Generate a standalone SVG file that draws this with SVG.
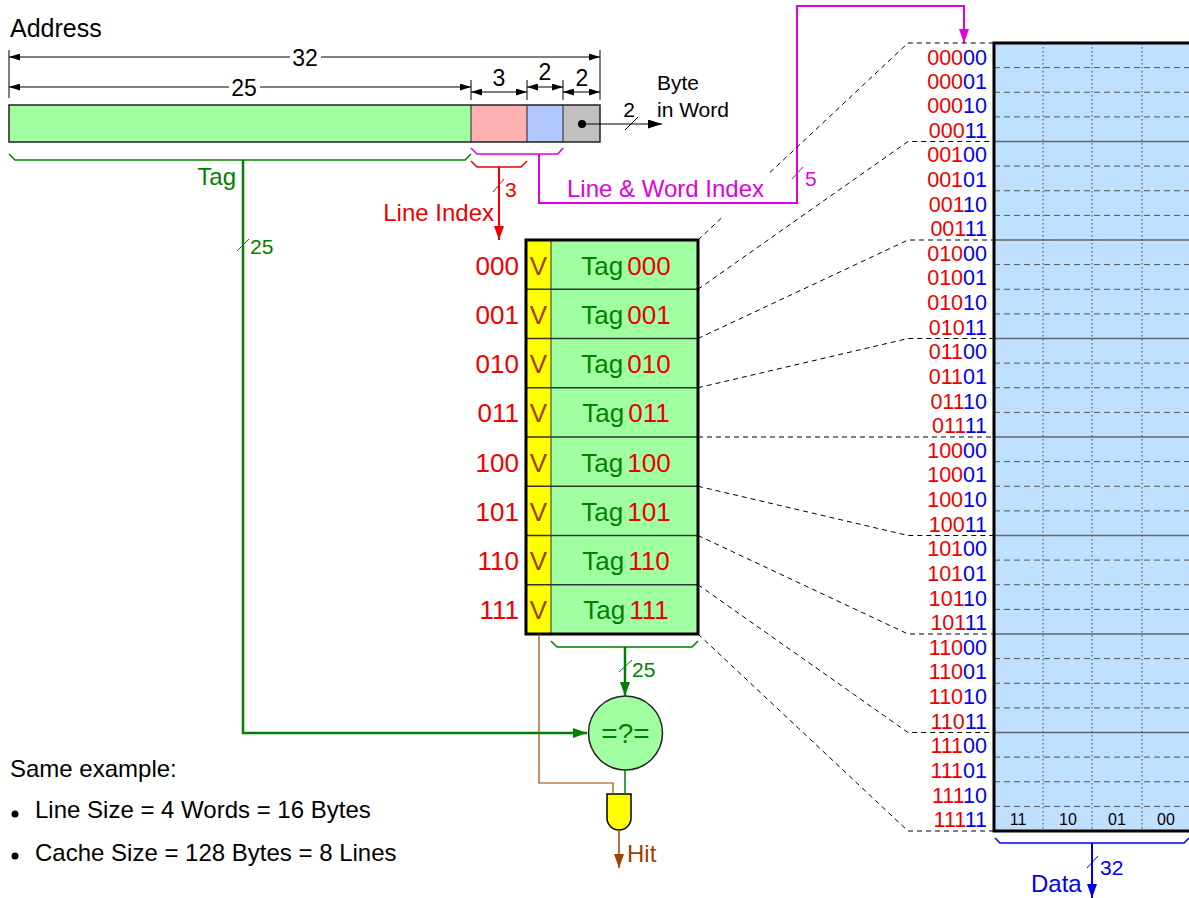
<svg xmlns="http://www.w3.org/2000/svg" width="1189" height="898" viewBox="0 0 1189 898">
<style>
text{font-family:"Liberation Sans",Arial,Helvetica,sans-serif}
.lbl{font-size:24px}
.dim{font-size:23px;fill:#000}
.sl{font-size:21px}
.dl{fill:none;stroke:#000;stroke-width:1}
.tick{stroke:#000;stroke-width:1}
.r{fill:#ee0000}
.b{fill:#0000ee}
.g{fill:#008000}
.br{fill:#a04000}
.crow{font-size:26px}
.drow{font-size:21.5px;text-anchor:end}
.dash{fill:none;stroke:#000;stroke-width:1;stroke-dasharray:5,4}
.rowdash{stroke:#555;stroke-width:1;stroke-dasharray:6,4}
.rowsolid{stroke:#666;stroke-width:1.5}
.coldot{stroke:#444;stroke-width:1;stroke-dasharray:1.5,2.5}
.cline{stroke:#333;stroke-width:1.5}
.colh{font-size:16px;text-anchor:middle;fill:#000}
</style>
<defs>
<marker id="dimA" viewBox="0 0 11 7" refX="11" refY="3.5" markerWidth="11" markerHeight="7" markerUnits="userSpaceOnUse" orient="auto-start-reverse"><path d="M0,0 L11,3.5 L0,7 z" fill="#000"/></marker>
<marker id="blkA" viewBox="0 0 14 9" refX="14" refY="4.5" markerWidth="14" markerHeight="9" markerUnits="userSpaceOnUse" orient="auto"><path d="M0,0 L14,4.5 L0,9 z" fill="#000"/></marker>
<marker id="redA" viewBox="0 0 14 10" refX="14" refY="5" markerWidth="14" markerHeight="10" markerUnits="userSpaceOnUse" orient="auto"><path d="M0,0 L14,5 L0,10 z" fill="#ee0000"/></marker>
<marker id="magA" viewBox="0 0 14 10" refX="14" refY="5" markerWidth="14" markerHeight="10" markerUnits="userSpaceOnUse" orient="auto"><path d="M0,0 L14,5 L0,10 z" fill="#e000e0"/></marker>
<marker id="grnA" viewBox="0 0 14 10" refX="14" refY="5" markerWidth="14" markerHeight="10" markerUnits="userSpaceOnUse" orient="auto"><path d="M0,0 L14,5 L0,10 z" fill="#008000"/></marker>
<marker id="brnA" viewBox="0 0 14 10" refX="14" refY="5" markerWidth="14" markerHeight="10" markerUnits="userSpaceOnUse" orient="auto"><path d="M0,0 L14,5 L0,10 z" fill="#a04000"/></marker>
<marker id="bluA" viewBox="0 0 14 10" refX="14" refY="5" markerWidth="14" markerHeight="10" markerUnits="userSpaceOnUse" orient="auto"><path d="M0,0 L14,5 L0,10 z" fill="#0000ee"/></marker>
</defs>
<rect width="1189" height="898" fill="#fff"/>

<g id="address">
<text x="10" y="37" font-size="25" fill="#000">Address</text>
<rect x="9" y="105" width="462" height="37" fill="#a0ffa0"/>
<rect x="471" y="105" width="56" height="37" fill="#ffb0b0"/>
<rect x="527" y="105" width="36" height="37" fill="#b0c8ff"/>
<rect x="563" y="105" width="37" height="37" fill="#c0c0c0"/>
<rect x="9" y="105" width="591" height="37" fill="none" stroke="#222" stroke-width="1.5"/>
<path d="M471,105V142M527,105V142M563,105V142" stroke="#222" stroke-width="1"/>
<circle cx="582" cy="124" r="4" fill="#000"/>
<text x="657" y="90" font-size="21" fill="#000">Byte</text>
<text x="657" y="117" font-size="21" fill="#000">in Word</text>
</g>

<g id="dimensions">
<path class="tick" d="M9,50V98M600,50V100M471,80V100M527,80V100M563,80V100"/>
<line class="dl" x1="9" y1="57" x2="290" y2="57" marker-start="url(#dimA)"/>
<line class="dl" x1="321" y1="57" x2="600" y2="57" marker-end="url(#dimA)"/>
<text class="dim" x="305" y="66" text-anchor="middle">32</text>
<line class="dl" x1="9" y1="87" x2="229" y2="87" marker-start="url(#dimA)"/>
<line class="dl" x1="260" y1="87" x2="471" y2="87" marker-end="url(#dimA)"/>
<text class="dim" x="244" y="96" text-anchor="middle">25</text>
<line class="dl" x1="471" y1="92" x2="527" y2="92" marker-start="url(#dimA)" marker-end="url(#dimA)"/>
<text class="dim" x="499" y="86" text-anchor="middle">3</text>
<line class="dl" x1="527" y1="87" x2="563" y2="87" marker-start="url(#dimA)" marker-end="url(#dimA)"/>
<text class="dim" x="545" y="80" text-anchor="middle">2</text>
<line class="dl" x1="563" y1="92" x2="600" y2="92" marker-start="url(#dimA)" marker-end="url(#dimA)"/>
<text class="dim" x="582" y="86" text-anchor="middle">2</text>
</g>

<g id="tag-array">
<rect x="526" y="240" width="25" height="394" fill="#ffff00"/>
<rect x="551" y="240" width="147" height="394" fill="#a0ffa0"/>
<path class="cline" d="M526,289.25H698M526,338.5H698M526,387.75H698M526,437H698M526,486.25H698M526,535.5H698M526,584.75H698"/>
<line x1="551" y1="240" x2="551" y2="634" stroke="#333" stroke-width="1"/>
<rect x="526" y="240" width="172" height="394" fill="none" stroke="#000" stroke-width="3"/>
<g class="crow">
<text x="519" y="274.6" text-anchor="end" class="r">000</text>
<text x="519" y="323.9" text-anchor="end" class="r">001</text>
<text x="519" y="373.1" text-anchor="end" class="r">010</text>
<text x="519" y="422.4" text-anchor="end" class="r">011</text>
<text x="519" y="471.6" text-anchor="end" class="r">100</text>
<text x="519" y="520.9" text-anchor="end" class="r">101</text>
<text x="519" y="570.1" text-anchor="end" class="r">110</text>
<text x="519" y="619.4" text-anchor="end" class="r">111</text>
<text x="538.5" y="274.6" text-anchor="middle" class="br">V</text>
<text x="538.5" y="323.9" text-anchor="middle" class="br">V</text>
<text x="538.5" y="373.1" text-anchor="middle" class="br">V</text>
<text x="538.5" y="422.4" text-anchor="middle" class="br">V</text>
<text x="538.5" y="471.6" text-anchor="middle" class="br">V</text>
<text x="538.5" y="520.9" text-anchor="middle" class="br">V</text>
<text x="538.5" y="570.1" text-anchor="middle" class="br">V</text>
<text x="538.5" y="619.4" text-anchor="middle" class="br">V</text>
<text x="626" y="274.6" text-anchor="middle"><tspan class="g">Tag</tspan><tspan class="r" dx="4">000</tspan></text>
<text x="626" y="323.9" text-anchor="middle"><tspan class="g">Tag</tspan><tspan class="r" dx="4">001</tspan></text>
<text x="626" y="373.1" text-anchor="middle"><tspan class="g">Tag</tspan><tspan class="r" dx="4">010</tspan></text>
<text x="626" y="422.4" text-anchor="middle"><tspan class="g">Tag</tspan><tspan class="r" dx="4">011</tspan></text>
<text x="626" y="471.6" text-anchor="middle"><tspan class="g">Tag</tspan><tspan class="r" dx="4">100</tspan></text>
<text x="626" y="520.9" text-anchor="middle"><tspan class="g">Tag</tspan><tspan class="r" dx="4">101</tspan></text>
<text x="626" y="570.1" text-anchor="middle"><tspan class="g">Tag</tspan><tspan class="r" dx="4">110</tspan></text>
<text x="626" y="619.4" text-anchor="middle"><tspan class="g">Tag</tspan><tspan class="r" dx="4">111</tspan></text>
</g>
</g>

<g id="data-array">
<rect x="994" y="43" width="200" height="788" fill="#c0e0ff"/>
<path class="rowdash" d="M994,67.6H1190M994,92.25H1190M994,116.9H1190M994,166.1H1190M994,190.75H1190M994,215.4H1190M994,264.6H1190M994,289.25H1190M994,313.9H1190M994,363.1H1190M994,387.75H1190M994,412.4H1190M994,461.6H1190M994,486.25H1190M994,510.9H1190M994,560.1H1190M994,584.75H1190M994,609.4H1190M994,658.6H1190M994,683.25H1190M994,707.9H1190M994,757.1H1190M994,781.75H1190M994,806.4H1190"/>
<path class="rowsolid" d="M994,141.5H1190M994,240H1190M994,338.5H1190M994,437H1190M994,535.5H1190M994,634H1190M994,732.5H1190"/>
<path class="coldot" d="M1043,43V831M1092,43V831M1142,43V831"/>
<rect x="994" y="43" width="200" height="788" fill="none" stroke="#000" stroke-width="3"/>
<text class="colh" x="1018" y="825">11</text>
<text class="colh" x="1068" y="825">10</text>
<text class="colh" x="1117" y="825">01</text>
<text class="colh" x="1166" y="825">00</text>
<g class="drow">
<text x="987" y="64.5"><tspan class="r">000</tspan><tspan class="b">00</tspan></text>
<text x="987" y="88.8"><tspan class="r">000</tspan><tspan class="b">01</tspan></text>
<text x="987" y="113.3"><tspan class="r">000</tspan><tspan class="b">10</tspan></text>
<text x="987" y="137.7"><tspan class="r">000</tspan><tspan class="b">11</tspan></text>
<text x="987" y="162.3"><tspan class="r">001</tspan><tspan class="b">00</tspan></text>
<text x="987" y="187"><tspan class="r">001</tspan><tspan class="b">01</tspan></text>
<text x="987" y="211.6"><tspan class="r">001</tspan><tspan class="b">10</tspan></text>
<text x="987" y="236.2"><tspan class="r">001</tspan><tspan class="b">11</tspan></text>
<text x="987" y="260.8"><tspan class="r">010</tspan><tspan class="b">00</tspan></text>
<text x="987" y="285.4"><tspan class="r">010</tspan><tspan class="b">01</tspan></text>
<text x="987" y="310.1"><tspan class="r">010</tspan><tspan class="b">10</tspan></text>
<text x="987" y="334.7"><tspan class="r">010</tspan><tspan class="b">11</tspan></text>
<text x="987" y="359.3"><tspan class="r">011</tspan><tspan class="b">00</tspan></text>
<text x="987" y="384"><tspan class="r">011</tspan><tspan class="b">01</tspan></text>
<text x="987" y="408.6"><tspan class="r">011</tspan><tspan class="b">10</tspan></text>
<text x="987" y="433.2"><tspan class="r">011</tspan><tspan class="b">11</tspan></text>
<text x="987" y="457.8"><tspan class="r">100</tspan><tspan class="b">00</tspan></text>
<text x="987" y="482.4"><tspan class="r">100</tspan><tspan class="b">01</tspan></text>
<text x="987" y="507.1"><tspan class="r">100</tspan><tspan class="b">10</tspan></text>
<text x="987" y="531.7"><tspan class="r">100</tspan><tspan class="b">11</tspan></text>
<text x="987" y="556.3"><tspan class="r">101</tspan><tspan class="b">00</tspan></text>
<text x="987" y="581"><tspan class="r">101</tspan><tspan class="b">01</tspan></text>
<text x="987" y="605.6"><tspan class="r">101</tspan><tspan class="b">10</tspan></text>
<text x="987" y="630.2"><tspan class="r">101</tspan><tspan class="b">11</tspan></text>
<text x="987" y="654.8"><tspan class="r">110</tspan><tspan class="b">00</tspan></text>
<text x="987" y="679.4"><tspan class="r">110</tspan><tspan class="b">01</tspan></text>
<text x="987" y="704.1"><tspan class="r">110</tspan><tspan class="b">10</tspan></text>
<text x="987" y="728.7"><tspan class="r">110</tspan><tspan class="b">11</tspan></text>
<text x="987" y="753.3"><tspan class="r">111</tspan><tspan class="b">00</tspan></text>
<text x="987" y="778"><tspan class="r">111</tspan><tspan class="b">01</tspan></text>
<text x="987" y="802.6"><tspan class="r">111</tspan><tspan class="b">10</tspan></text>
<text x="987" y="827.2"><tspan class="r">111</tspan><tspan class="b">11</tspan></text>
</g>
</g>

<g id="comparator">
<circle cx="625.5" cy="733" r="37" fill="#a0ffa0" stroke="#222" stroke-width="1.5"/>
<text x="625.5" y="743" font-size="28" text-anchor="middle" class="g">=?=</text>
</g>

<g id="and-gate">
<path d="M607,794H631V818A12,12 0 0 1 607,818Z" fill="#ffff00" stroke="#000" stroke-width="1.5"/>
</g>

<g id="connectors">
<line x1="582" y1="124" x2="662" y2="124" stroke="#000" stroke-width="1.2" marker-end="url(#blkA)"/>
<line x1="625" y1="130" x2="638" y2="117" stroke="#000" stroke-width="1"/>
<text x="629" y="117" font-size="21" text-anchor="middle" fill="#000">2</text>
<path d="M9,154L15,160H465L471,154" fill="none" stroke="#008000" stroke-width="1.5"/>
<path d="M243,160V733H587" fill="none" stroke="#008000" stroke-width="2.5" marker-end="url(#grnA)"/>
<text x="236" y="185" class="lbl g" text-anchor="end">Tag</text>
<line x1="237" y1="251" x2="249" y2="239" stroke="#008000" stroke-width="1"/>
<text x="250" y="254" class="sl g">25</text>
<path d="M471,161L477,167H521L527,161" fill="none" stroke="#ee0000" stroke-width="1.5"/>
<line x1="499" y1="167" x2="499" y2="240" stroke="#ee0000" stroke-width="2" marker-end="url(#redA)"/>
<line x1="493" y1="192" x2="504" y2="179" stroke="#ee0000" stroke-width="1"/>
<text x="505" y="197" class="sl r">3</text>
<text x="494" y="221" class="lbl r" text-anchor="end">Line Index</text>
<path d="M471,148L477,154H558L563,148" fill="none" stroke="#e000e0" stroke-width="1.5"/>
<path d="M539,154V203H797V6H964V43" fill="none" stroke="#e000e0" stroke-width="2" marker-end="url(#magA)"/>
<line x1="792" y1="179" x2="803" y2="167" stroke="#e000e0" stroke-width="1"/>
<text x="805" y="186" class="sl" fill="#e000e0">5</text>
<text x="567" y="197" class="lbl" fill="#e000e0">Line &amp; Word Index</text>
<path d="M551,641L557,647H692L698,641" fill="none" stroke="#008000" stroke-width="1.5"/>
<line x1="625" y1="647" x2="625" y2="696" stroke="#008000" stroke-width="2.5" marker-end="url(#grnA)"/>
<line x1="619" y1="672" x2="632" y2="660" stroke="#008000" stroke-width="1"/>
<text x="632" y="677" class="sl g">25</text>
<path d="M539,634V783H613V794" fill="none" stroke="#a04000" stroke-width="1.2"/>
<line x1="625" y1="770" x2="625" y2="794" stroke="#008000" stroke-width="1.5"/>
<line x1="619" y1="830" x2="619" y2="868" stroke="#a04000" stroke-width="1.5" marker-end="url(#brnA)"/>
<text x="627" y="862" class="lbl br">Hit</text>
<path d="M995,838L1000,843H1184L1189,838" fill="none" stroke="#0000ee" stroke-width="1.5"/>
<line x1="1092" y1="843" x2="1092" y2="898" stroke="#0000ee" stroke-width="2" marker-end="url(#bluA)"/>
<line x1="1087" y1="868" x2="1098" y2="856" stroke="#0000ee" stroke-width="1"/>
<text x="1100" y="875" class="sl b">32</text>
<text x="1031" y="892" class="lbl b">Data</text>
<path class="dash" d="M698,240L722,217.5"/>
<path class="dash" d="M770,172.5L908,43H994"/>
<path class="dash" d="M698,289.25L908,141.5H994"/>
<path class="dash" d="M698,338.5L908,240H994"/>
<path class="dash" d="M698,387.75L908,338.5H994"/>
<path class="dash" d="M698,437H994"/>
<path class="dash" d="M698,486.25L908,535.5H994"/>
<path class="dash" d="M698,535.5L908,634H994"/>
<path class="dash" d="M698,584.75L908,732.5H994"/>
<path class="dash" d="M698,634L908,831H994"/>
</g>

<g id="notes">
<text x="10" y="777" class="lbl" fill="#000">Same example:</text>
<circle cx="15" cy="814" r="3.5" fill="#000"/>
<text x="35" y="818" class="lbl" fill="#000">Line Size = 4 Words = 16 Bytes</text>
<circle cx="15" cy="856" r="3.5" fill="#000"/>
<text x="35" y="861" class="lbl" fill="#000">Cache Size = 128 Bytes = 8 Lines</text>
</g>
</svg>
